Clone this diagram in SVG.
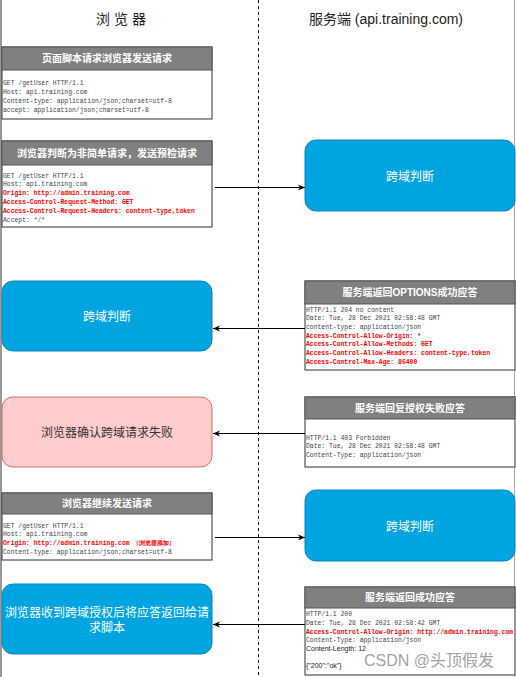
<svg xmlns="http://www.w3.org/2000/svg" width="516" height="677" viewBox="0 0 516 677">
<style>
.hd{font-family:"Liberation Sans","Noto Sans CJK SC",sans-serif;font-size:14px;fill:#222;text-anchor:middle}
.box{fill:#fff;stroke:#333;stroke-width:1}
.bar{fill:#808080;stroke:#555;stroke-width:1}
.bt{font-family:"Liberation Sans","Noto Sans CJK SC",sans-serif;font-size:10px;font-weight:bold;fill:#fff;text-anchor:middle}
.m{font-family:"Liberation Mono",monospace;font-size:6.4px;fill:#444}
.r{fill:#ff0000;font-weight:bold}
.s{font-family:"Liberation Sans",sans-serif;font-size:7px;fill:#222}
.blue{fill:#00a4e1;stroke:#0a84c0;stroke-width:1}
.pink{fill:#ffcccc;stroke:#d36e6e;stroke-width:1}
.wt{font-family:"Liberation Sans","Noto Sans CJK SC",sans-serif;font-size:12px;fill:#fff;text-anchor:middle}
.dt{font-family:"Liberation Sans","Noto Sans CJK SC",sans-serif;font-size:12px;fill:#333;text-anchor:middle}
.ln{stroke:#000;stroke-width:1;fill:none;marker-end:url(#ah)}
</style>
<defs>
<marker id="ah" markerWidth="8" markerHeight="8" refX="7" refY="4" orient="auto" markerUnits="userSpaceOnUse">
<path d="M0,1 L7,4 L0,7 L2,4 Z" fill="#000"/>
</marker>
</defs>
<rect width="516" height="677" fill="#fff"/>
<line x1="1" y1="0" x2="1" y2="677" stroke="#777" stroke-width="1.5"/>
<line x1="514.5" y1="0" x2="514.5" y2="677" stroke="#aaa" stroke-width="1"/>
<line x1="258.5" y1="0" x2="258.5" y2="677" stroke="#000" stroke-width="1" stroke-dasharray="3,3"/>
<g id="header">
<text class="hd" x="121" y="24">浏 览 器</text>
<text class="hd" x="386" y="24">服务端 (api.training.com)</text>
</g>
<g id="req1">
<rect class="box" x="2" y="47" width="210" height="72"/>
<rect class="bar" x="2" y="47" width="210" height="23"/>
<text class="bt" x="107" y="62">页面脚本请求浏览器发送请求</text>
<text class="m" x="3" y="84.5">GET /getUser HTTP/1.1</text>
<text class="m" x="3" y="93.5">Host: api.training.com</text>
<text class="m" x="3" y="102.5">Content-type: application/json;charset=utf-8</text>
<text class="m" x="3" y="111.5">accept: application/json;charset=utf-8</text>
</g>
<g id="req2">
<rect class="box" x="2" y="141" width="210" height="86"/>
<rect class="bar" x="2" y="141" width="210" height="24"/>
<text class="bt" x="107" y="157">浏览器判断为非简单请求，发送预检请求</text>
<text class="m" x="3" y="177.5">GET /getUser HTTP/1.1</text>
<text class="m" x="3" y="186.3">Host: api.training.com</text>
<text class="m r" x="3" y="195.1">Origin: http://admin.training.com</text>
<text class="m r" x="3" y="203.9">Access-Control-Request-Method: GET</text>
<text class="m r" x="3" y="212.7">Access-Control-Request-Headers: content-type,token</text>
<text class="m" x="3" y="221.5">Accept: */*</text>
</g>
<g id="srv1">
<rect class="blue" x="305" y="140" width="210" height="71" rx="11"/>
<text class="wt" x="410" y="181">跨域判断</text>
</g>
<g id="resp1">
<rect class="box" x="305" y="281" width="210" height="89"/>
<rect class="bar" x="305" y="281" width="210" height="23"/>
<text class="bt" x="410" y="296">服务端返回OPTIONS成功应答</text>
<text class="m" x="306" y="311.5">HTTP/1.1 204 no content</text>
<text class="m" x="306" y="320.2">Date: Tue, 28 Dec 2021 02:58:48 GMT</text>
<text class="m" x="306" y="328.9">content-type: application/json</text>
<text class="m r" x="306" y="337.6">Access-Control-Allow-Origin: *</text>
<text class="m r" x="306" y="346.3">Access-Control-Allow-Methods: GET</text>
<text class="m r" x="306" y="355">Access-Control-Allow-Headers: content-type,token</text>
<text class="m r" x="306" y="363.7">Access-Control-Max-Age: 86400</text>
</g>
<g id="cli1">
<rect class="blue" x="2" y="281" width="210" height="70" rx="11"/>
<text class="wt" x="107" y="321">跨域判断</text>
</g>
<g id="fail">
<rect class="pink" x="2" y="397" width="210" height="70" rx="11"/>
<text class="dt" x="107" y="437">浏览器确认跨域请求失败</text>
</g>
<g id="resp2">
<rect class="box" x="305" y="397" width="210" height="70"/>
<rect class="bar" x="305" y="397" width="210" height="22"/>
<text class="bt" x="410" y="412">服务端回复授权失败应答</text>
<text class="m" x="306" y="439.5">HTTP/1.1 403 Forbidden</text>
<text class="m" x="306" y="448">Date: Tue, 28 Dec 2021 02:58:48 GMT</text>
<text class="m" x="306" y="456.5">Content-Type: application/json</text>
</g>
<g id="req3">
<rect class="box" x="2" y="493" width="210" height="67"/>
<rect class="bar" x="2" y="493" width="210" height="21"/>
<text class="bt" x="107" y="507">浏览器继续发送请求</text>
<text class="m" x="3" y="527.5">GET /getUser HTTP/1.1</text>
<text class="m" x="3" y="536">Host: api.training.com</text>
<text class="m r" x="3" y="544.5">Origin: http://admin.training.com  （浏览器添加）</text>
<text class="m" x="3" y="553.5">Content-type: application/json;charset=utf-8</text>
</g>
<g id="srv2">
<rect class="blue" x="305" y="490" width="210" height="71" rx="11"/>
<text class="wt" x="410" y="531">跨域判断</text>
</g>
<g id="resp3">
<rect class="box" x="305" y="587" width="210" height="88"/>
<rect class="bar" x="305" y="587" width="210" height="21"/>
<text class="bt" x="410" y="601">服务端返回成功应答</text>
<text class="m" x="306" y="615.5">HTTP/1.1 200</text>
<text class="m" x="306" y="624.5">Date: Tue, 28 Dec 2021 02:58:42 GMT</text>
<text class="m r" x="306" y="633.5">Access-Control-Allow-Origin: http://admin.training.com</text>
<text class="m" x="306" y="642">Content-Type: application/json</text>
<text class="s" x="306" y="650.5">Content-Length: 12</text>
<text class="s" x="306" y="667.5">{"200":"ok"}</text>
</g>
<g id="done">
<rect class="blue" x="2" y="584" width="210" height="70" rx="11"/>
<text class="wt" x="107" y="617">浏览器收到跨域授权后将应答返回给请</text>
<text class="wt" x="107" y="632">求脚本</text>
</g>
<g id="connectors">
<line class="ln" x1="215" y1="187.5" x2="305" y2="187.5"/>
<line class="ln" x1="305" y1="328.5" x2="213" y2="328.5"/>
<line class="ln" x1="305" y1="433.5" x2="213" y2="433.5"/>
<line class="ln" x1="215" y1="537.5" x2="305" y2="537.5"/>
<line class="ln" x1="305" y1="624.5" x2="213" y2="624.5"/>
</g>
<text x="364" y="666" font-family="Liberation Sans,'Noto Sans CJK SC',sans-serif" font-size="16" fill="#888" fill-opacity="0.8">CSDN @头顶假发</text>
</svg>
